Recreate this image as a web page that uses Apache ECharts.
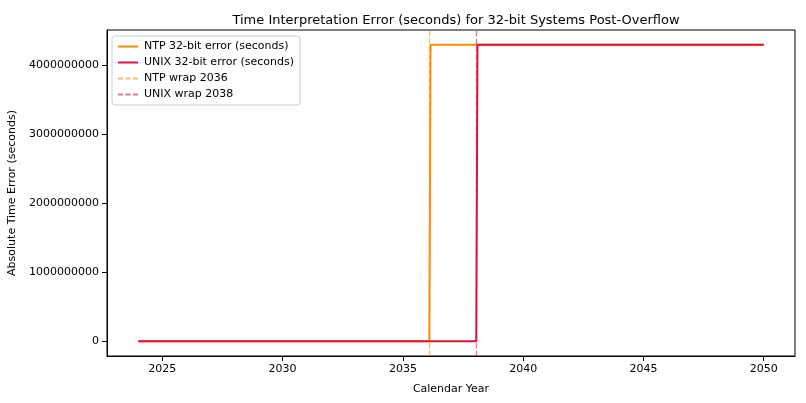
<!DOCTYPE html>
<html><head><meta charset="utf-8">
<script src="https://cdn.jsdelivr.net/npm/echarts@6/dist/echarts.min.js"></script>
<style>html,body{margin:0;padding:0;background:#fff}#c{width:806px;height:403px}</style>
</head><body><div id="c"></div>
<script>
const WRAP = 4294967296;
const ntpX = [2024, 2036.1, 2036.15, 2050];
const ntpY = [0, 0, WRAP, WRAP];
const unixX = [2024, 2038.05, 2038.1, 2050];
const unixY = [0, 0, WRAP, WRAP];
const ntpWrap = 2036.1;
const unixWrap = 2038.05;
const xTicks = [2025, 2030, 2035, 2040, 2045, 2050];
const yTicks = [0, 1000000000, 2000000000, 3000000000, 4000000000];

const font = 'DejaVu Sans';
const solid = 'path://M0,0h20v2h-20z';
const dash = 'path://M0,0h5v2h-5zM7.5,0h5v2h-5zM15,0h5v2h-5z';
const chart = echarts.init(document.getElementById('c'));
chart.setOption({
  animation: false,
  textStyle: {fontFamily: font},
  title: {text: 'Time Interpretation Error (seconds) for 32-bit Systems Post-Overflow', left: 451, textAlign: 'center', top: 9,
    textStyle: {fontFamily: font, fontSize: 13, fontWeight: 'normal', color: '#000'}},
  grid: {left: 107, right: 11, top: 30, bottom: 47, containLabel: false, outerBoundsMode: 'none',
    show: true, borderColor: '#000', borderWidth: 1},
  legend: {left: 112, top: 36, orient: 'vertical', itemGap: 5, itemWidth: 22, itemHeight: 2,
    borderColor: '#ccc', borderWidth: 1, borderRadius: 3, padding: [5, 6],
    textStyle: {fontFamily: font, fontSize: 11, color: '#000'},
    data: [
      {name: 'NTP 32-bit error (seconds)', icon: solid},
      {name: 'UNIX 32-bit error (seconds)', icon: solid},
      {name: 'NTP wrap 2036', icon: dash},
      {name: 'UNIX wrap 2038', icon: dash}
    ]},
  xAxis: {type: 'value', min: 2022.7, max: 2051.3, name: 'Calendar Year', nameLocation: 'middle', nameGap: 28,
    nameTextStyle: {fontFamily: font, fontSize: 11, color: '#000'},
    splitLine: {show: false},
    axisLine: {onZero: false, lineStyle: {color: '#000'}},
    axisTick: {customValues: xTicks, lineStyle: {color: '#000'}},
    axisLabel: {customValues: xTicks, color: '#000', fontSize: 11, fontFamily: font, formatter: v => String(v)}},
  yAxis: {type: 'value', min: -214748365, max: 4509715661, name: 'Absolute Time Error (seconds)', nameLocation: 'middle', nameGap: 86,
    nameTextStyle: {fontFamily: font, fontSize: 11, color: '#000'},
    splitLine: {show: false},
    axisLine: {show: true, lineStyle: {color: '#000'}},
    axisTick: {show: true, customValues: yTicks, lineStyle: {color: '#000'}},
    axisLabel: {customValues: yTicks, color: '#000', fontSize: 11, fontFamily: font, formatter: v => String(Math.round(v))}},
  series: [
    {name: 'NTP 32-bit error (seconds)', type: 'line', symbol: 'none', color: '#ff8c00',
      lineStyle: {width: 2}, data: ntpX.map((x, i) => [x, ntpY[i]])},
    {name: 'UNIX 32-bit error (seconds)', type: 'line', symbol: 'none', color: '#dc143c',
      lineStyle: {width: 2}, data: unixX.map((x, i) => [x, unixY[i]])},
    {name: 'NTP wrap 2036', type: 'line', data: [], color: 'rgba(255,140,0,0.6)',
      markLine: {silent: true, symbol: 'none', label: {show: false},
        lineStyle: {type: 'dashed', color: 'rgba(255,140,0,0.6)', width: 1.3}, data: [{xAxis: ntpWrap}]}},
    {name: 'UNIX wrap 2038', type: 'line', data: [], color: 'rgba(220,20,60,0.6)',
      markLine: {silent: true, symbol: 'none', label: {show: false},
        lineStyle: {type: 'dashed', color: 'rgba(220,20,60,0.6)', width: 1.3}, data: [{xAxis: unixWrap}]}}
  ]
});
</script></body></html>
